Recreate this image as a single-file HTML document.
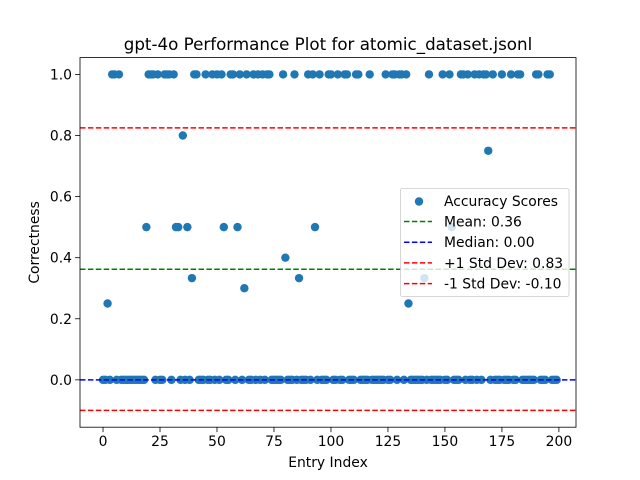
<!DOCTYPE html>
<html><head><meta charset="utf-8"><style>body{margin:0;background:#fff}svg{display:block;font-family:"DejaVu Sans","Liberation Sans",sans-serif}</style></head>
<body>
<svg id="chart" width="640" height="480" viewBox="0 0 640 480" xmlns="http://www.w3.org/2000/svg">
<rect width="640" height="480" fill="#fff"/>
<g id="plot"></g>
</svg>
<script>
const scores = [
0,0,.25,0,1,1,0,1,0,0, 0,0,0,0,0,0,0,0,0,.5,
1,1,1,0,1,0,0,1,1,1, 0,1,.5,.5,0,.8,0,.5,0,.333,
1,1,0,0,0,1,0,0,1,0, 1,0,1,.5,0,0,1,1,0,.5,
1,0,.3,1,0,0,1,0,1,0, 1,0,1,1,0,0,0,0,0,1,
.4,0,0,0,1,0,.333,0,0,0, 1,0,1,.5,0,1,0,0,0,1,
1,0,0,1,0,0,1,1,0,0, 0,1,1,0,0,0,0,1,0,0,
0,0,0,0,1,0,0,1,1,0, 1,1,0,1,.25,0,0,0,0,0,
0,.333,0,1,0,0,0,0,0,1, 0,0,1,.5,0,0,0,1,1,0,
1,0,0,1,0,1,0,1,1,.75, 0,1,0,0,0,1,0,0,0,1,
0,0,1,1,0,0,0,0,0,0, 1,1,0,0,0,1,1,0,0,0];
const xTicks = [0,25,50,75,100,125,150,175,200];
const yTicks = [0.0,0.2,0.4,0.6,0.8,1.0];
const refValues = [0.362,0.00,0.825,-0.10];
const refLabels = ["Mean: 0.36","Median: 0.00","+1 Std Dev: 0.83","-1 Std Dev: -0.10"];
const refColors = ["green","blue","red","red"];

const L=80,R=576,T=57.6,B=427.2;
const xMin=-10.1,xMax=207.5,yMin=-0.155,yMax=1.055;
const sx=v=>L+(v-xMin)/(xMax-xMin)*(R-L);
const sy=v=>B-(v-yMin)/(yMax-yMin)*(B-T);
const NS="http://www.w3.org/2000/svg";
const g=document.getElementById('plot');
function mk(t,a,p){const e=document.createElementNS(NS,t);for(const k in a)e.setAttribute(k,a[k]);(p||g).appendChild(e);return e;}

const pts=mk('g',{});


scores.forEach((v,i)=>{
  const c=mk('circle',{cx:sx(i),cy:sy(v),r:4.2,fill:'#1f77b4'},pts);
  
  
});
refValues.forEach((v,i)=>{
  const l=mk('line',{x1:L,x2:R,y1:sy(v),y2:sy(v),stroke:refColors[i],'stroke-width':1.5,'stroke-dasharray':'5.5,2.4'});
  
  
});
const frame=mk('rect',{x:L,y:T,width:R-L,height:B-T,fill:'none',stroke:'#000','stroke-width':0.8});


xTicks.forEach(v=>{
  const x=sx(v);
  mk('line',{x1:x,x2:x,y1:B,y2:B+4.9,stroke:'#000','stroke-width':0.8});
  const t=mk('text',{x:x,y:B+19,'text-anchor':'middle','font-size':13.9,fill:'#000'});
  t.textContent=v;
  
  
});
yTicks.forEach(v=>{
  const y=sy(v);
  mk('line',{x1:L,x2:L-4.9,y1:y,y2:y,stroke:'#000','stroke-width':0.8});
  const t=mk('text',{x:L-8,y:y+5,'text-anchor':'end','font-size':13.9,fill:'#000'});
  t.textContent=v.toFixed(1);
  
  
});
let t=mk('text',{x:(L+R)/2,y:50,'text-anchor':'middle','font-size':16.7,fill:'#000'});
t.textContent='gpt-4o Performance Plot for atomic_dataset.jsonl';


t=mk('text',{x:(L+R)/2,y:467,'text-anchor':'middle','font-size':13.9,fill:'#000'});
t.textContent='Entry Index';


t=mk('text',{x:0,y:0,'text-anchor':'middle','font-size':13.9,fill:'#000',transform:`translate(39,${(T+B)/2}) rotate(-90)`});
t.textContent='Correctness';



const lg=mk('g',{});


mk('rect',{x:400.5,y:188.5,width:168.5,height:108,rx:2,fill:'#fff','fill-opacity':0.8,stroke:'#ccc','stroke-width':0.8},lg);
const e0=mk('circle',{cx:419,cy:201.5,r:4.2,fill:'#1f77b4'},lg);
const lt0=mk('text',{x:444,y:206,'font-size':13.9,fill:'#000'},lg);
lt0.textContent='Accuracy Scores';


refLabels.forEach((s,i)=>{
  const y=221.5+i*20.7;
  mk('line',{x1:404,x2:432,y1:y,y2:y,stroke:refColors[i],'stroke-width':1.5,'stroke-dasharray':'5.5,2.4'},lg);
  const tt=mk('text',{x:444,y:y+5,'font-size':13.9,fill:'#000'},lg);
  tt.textContent=s;
  
  
});
</script>
</body></html>
